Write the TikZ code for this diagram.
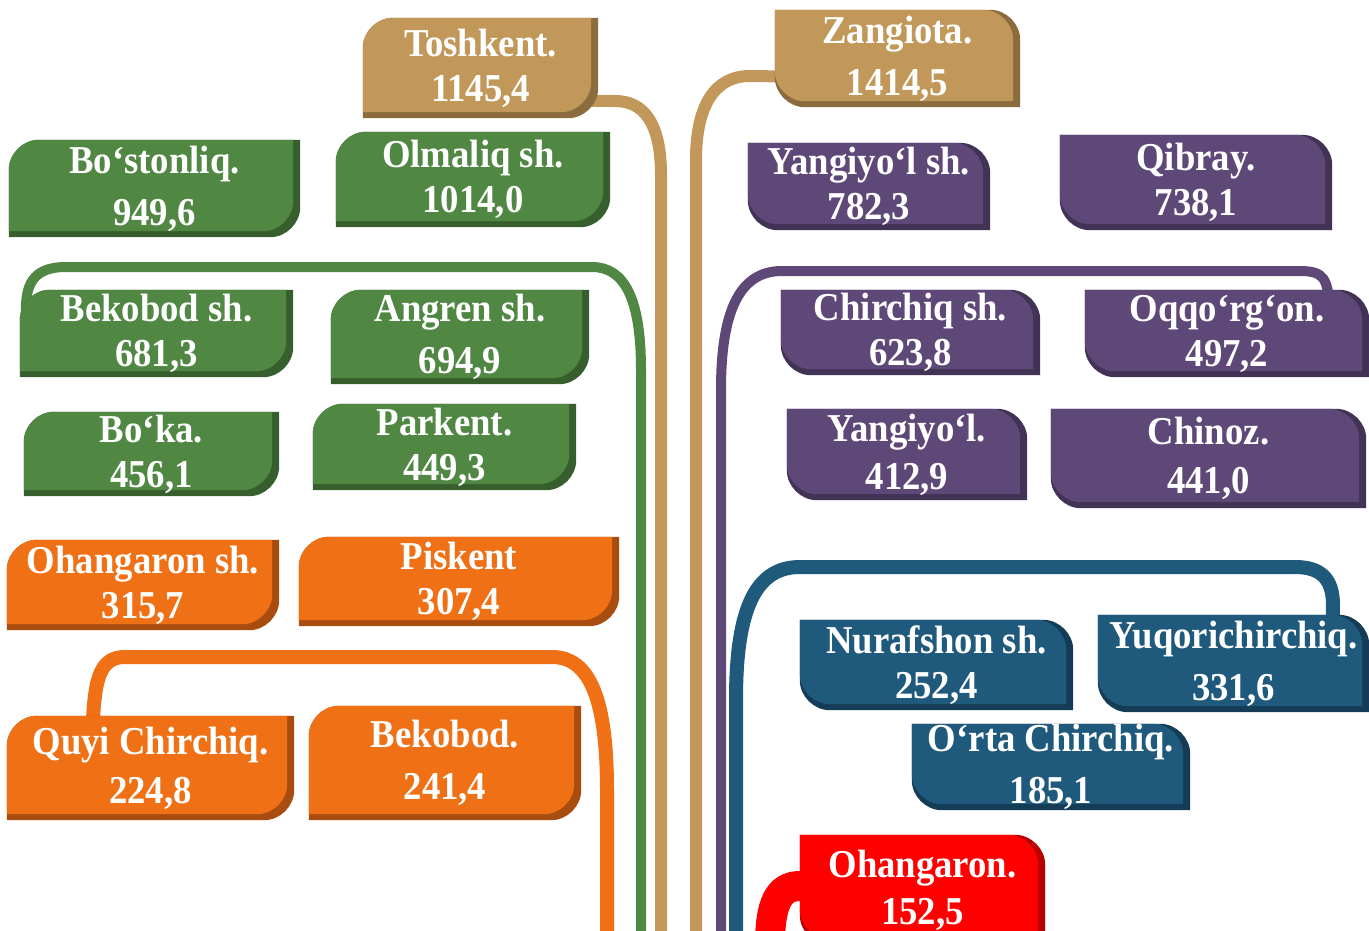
\documentclass[tikz,border=0pt]{standalone}
\usepackage{fontspec}
\setmainfont{Liberation Serif}[FakeStretch=0.93]
\usepackage{tikz}
\usetikzlibrary{calc, backgrounds}
\definecolor{tanL}{RGB}{193,152,90}
\definecolor{tanD}{RGB}{138,108,62}
\definecolor{greenL}{RGB}{80,135,67}
\definecolor{greenD}{RGB}{55,95,45}
\definecolor{purpleL}{RGB}{94,72,120}
\definecolor{purpleD}{RGB}{66,50,86}
\definecolor{orangeL}{RGB}{240,112,22}
\definecolor{orangeD}{RGB}{168,76,16}
\definecolor{blueL}{RGB}{31,90,125}
\definecolor{blueD}{RGB}{20,60,86}
\definecolor{redL}{RGB}{255,0,0}
\definecolor{redD}{RGB}{185,0,0}
\newcommand{\crad}{30}
% rounded top left and bottom right
\newcommand{\lshape}[5]{%
  \fill[#1] (#5) -- ($(#2)+(0,\crad)$) .. controls +(0,-16) and +(-16,0) .. ($(#2)+(\crad,0)$)
    -- (#3) -- ($(#4)+(0,-\crad)$) .. controls +(0,16) and +(16,0) .. ($(#4)+(-\crad,0)$) -- cycle;}
% rounded top right and bottom left
\newcommand{\rshape}[5]{%
  \fill[#1] (#2) -- ($(#3)+(-\crad,0)$) .. controls +(16,0) and +(0,-16) .. ($(#3)+(0,\crad)$)
    -- (#4) -- ($(#5)+(\crad,0)$) .. controls +(-16,0) and +(0,16) .. ($(#5)+(0,-\crad)$) -- cycle;}
\newcommand{\corners}[1]{%
  \path (#1.north west) coordinate (nw) (#1.north east) coordinate (ne)
        (#1.south east) coordinate (se) (#1.south west) coordinate (sw);
  \path (ne) ++(-7,0) coordinate (nei) (se) ++(-7,-6) coordinate (sei) (sw) ++(0,-6) coordinate (swi);}
\newcommand{\ltile}[2]{\corners{#1}\lshape{#2D}{nw}{ne}{se}{sw}\lshape{#2L}{nw}{nei}{sei}{swi}}
\newcommand{\rtile}[2]{\corners{#1}\rshape{#2D}{nw}{ne}{se}{sw}\rshape{#2L}{nw}{nei}{sei}{swi}}
\begin{document}
\begin{tikzpicture}[x=1pt, y=-1pt,
  tile/.style={inner sep=0pt, align=center, text=white, font=\bfseries\fontsize{39.5}{45}\selectfont}]
  \useasboundingbox (0,0) rectangle (1369,931);
  % left side
  \node[tile, minimum width=235, minimum height=100] (toshkent) at (480.5,68) {Toshkent.\\1145,4};
  \node[tile, minimum width=291, minimum height=97] (bostonliq) at (154.5,188.5) {Bo‘stonliq.\\[7pt]949,6};
  \node[tile, minimum width=274, minimum height=95] (olmaliq) at (473,179.5) {Olmaliq sh.\\1014,0};
  \node[tile, minimum width=273, minimum height=87] (bekobodsh) at (156.5,333.5) {Bekobod sh.\\681,3};
  \node[tile, minimum width=258, minimum height=94] (angren) at (460,337) {Angren sh.\\[7pt]694,9};
  \node[tile, minimum width=255, minimum height=84] (boka) at (151.5,454) {Bo‘ka.\\456,1};
  \node[tile, minimum width=263, minimum height=86] (parkent) at (444.5,447) {Parkent.\\449,3};
  \node[tile, minimum width=272, minimum height=90] (ohangaronsh) at (143,585) {Ohangaron sh.\\315,7};
  \node[tile, minimum width=320, minimum height=89] (piskent) at (459,581.5) {Piskent\\307,4};
  \node[tile, minimum width=287, minimum height=104] (quyi) at (150.5,768) {Quyi Chirchiq.\\[4pt]224,8};
  \node[tile, minimum width=272, minimum height=114] (bekobod) at (445,763) {Bekobod.\\[7pt]241,4};
  % right side
  \node[tile, minimum width=245, minimum height=97] (zangiota) at (897.5,58.5) {Zangiota.\\[7pt]1414,5};
  \node[tile, minimum width=242, minimum height=87] (yangiyolsh) at (869,186.5) {Yangiyo‘l sh.\\782,3};
  \node[tile, minimum width=272, minimum height=95] (qibray) at (1196,182.5) {Qibray.\\738,1};
  \node[tile, minimum width=259, minimum height=85] (chirchiq) at (910.5,332.5) {Chirchiq sh.\\623,8};
  \node[tile, minimum width=284, minimum height=87] (oqqorgon) at (1227,333.5) {Oqqo‘rg‘on.\\497,2};
  \node[tile, minimum width=240, minimum height=91] (yangiyol) at (907,454.5) {Yangiyo‘l.\\[3pt]412,9};
  \node[tile, minimum width=315, minimum height=99] (chinoz) at (1208.5,458.5) {Chinoz.\\[4pt]441,0};
  \node[tile, minimum width=273, minimum height=90] (nurafshon) at (936.5,665) {Nurafshon sh.\\252,4};
  \node[tile, minimum width=271, minimum height=97] (yuqori) at (1233.5,663.5) {Yuqorichirchiq.\\[7pt]331,6};
  \node[tile, minimum width=278, minimum height=86] (orta) at (1051,767) {O‘rta Chirchiq.\\[7pt]185,1};
  \node[tile, minimum width=245, minimum height=110] (ohangaron) at (922.5,890) {Ohangaron.\\[2pt]152,5};
  % feet of the bands
  \coordinate (orangefoot) at (607,931);
  \coordinate (greenfoot) at (641,931);
  \coordinate (toshfoot) at (661,931);
  \coordinate (zangfoot) at (696,931);
  \coordinate (purplefoot) at (721,931);
  \coordinate (bluefoot) at (736,931);
  \coordinate (redfoot) at (770,945);
  \begin{scope}[on background layer]
    \draw[tanL, line width=12] ($(toshkent.east)+(-10,33)$) -- (615,101) .. controls (645,101) and (661,125) .. (661,175) -- (toshfoot);
    \draw[tanL, line width=12] ($(zangiota.west)+(10,18)$) -- (750,76) .. controls (715,76) and (696,105) .. (696,160) -- (zangfoot);
    \draw[greenL, line width=10] ($(bekobodsh.north west)+(6,22)$) .. controls +(0,-25) and +(-35,0) .. (66,267)
      -- (592,267) .. controls (625,267) and (641,300) .. (641,370) -- (greenfoot);
    \draw[purpleL, line width=10] ($(oqqorgon.north west)+(245,15)$) .. controls +(-3,-25) and +(25,0) .. (1300,271)
      -- (782,271) .. controls (740,271) and (721,310) .. (721,390) -- (purplefoot);
    \draw[blueL, line width=14] ($(yuqori.north west)+(235,10)$) -- (1333,605) .. controls (1333,580) and (1322,567) .. (1295,567)
      -- (800,567) .. controls (755,567) and (736,610) .. (736,700) -- (bluefoot);
    \draw[orangeL, line width=14] ($(quyi.north west)+(86,8)$) .. controls +(2,-45) and +(-25,0) .. (125,657)
      -- (552,657) .. controls (590,657) and (607,700) .. (607,790) -- (orangefoot);
    \draw[redL, line width=30] ($(ohangaron.west)+(12,-4)$) -- (800,886) .. controls (778,886) and (770,905) .. (redfoot);
    % tiles
    \ltile{toshkent}{tan}
    \ltile{bostonliq}{green}
    \ltile{olmaliq}{green}
    \ltile{bekobodsh}{green}
    \ltile{angren}{green}
    \ltile{boka}{green}
    \ltile{parkent}{green}
    \ltile{ohangaronsh}{orange}
    \ltile{piskent}{orange}
    \ltile{quyi}{orange}
    \ltile{bekobod}{orange}
    \rtile{zangiota}{tan}
    \rtile{yangiyolsh}{purple}
    \rtile{qibray}{purple}
    \rtile{chirchiq}{purple}
    \rtile{oqqorgon}{purple}
    \rtile{yangiyol}{purple}
    \rtile{chinoz}{purple}
    \rtile{nurafshon}{blue}
    \rtile{yuqori}{blue}
    \rtile{orta}{blue}
    \rtile{ohangaron}{red}
  \end{scope}
\end{tikzpicture}
\end{document}
